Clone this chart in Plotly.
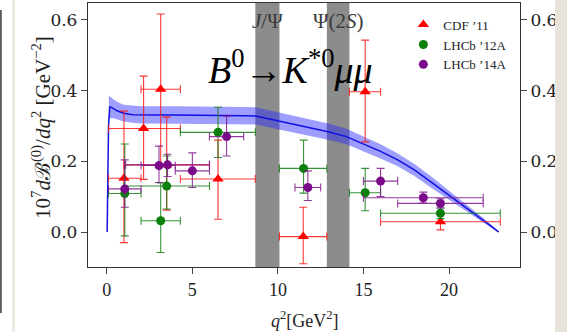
import plotly.graph_objects as go

# ---------------- data ----------------
# theory central curve
q_th = [0.02, 0.06, 0.1, 0.17, 0.3, 0.6, 1.0, 1.5, 2.0, 3.0, 4.0, 5.0, 6.0, 7.0, 8.0, 8.7,
        9.5, 10.0, 11.0, 12.0, 13.0, 14.0, 15.0, 16.0, 17.0, 18.0, 19.0, 20.0, 21.0, 22.0, 22.5, 22.9]
th_c = [0.0, 0.15, 0.30, 0.354, 0.352, 0.343, 0.336, 0.332, 0.331, 0.331, 0.331, 0.331, 0.331, 0.330, 0.329, 0.328,
        0.320, 0.315, 0.305, 0.295, 0.283, 0.270, 0.250, 0.228, 0.204, 0.175, 0.140, 0.105, 0.070, 0.033, 0.015, 0.0]
# theory uncertainty band
q_band = [0.12, 0.2, 0.4, 0.7, 1.0, 1.5, 2.0, 4.0, 6.0, 8.0, 8.7, 10.0, 11.0, 12.0, 13.0, 14.0,
          15.0, 16.0, 17.0, 18.0, 19.0, 20.0, 21.0, 22.0, 22.5, 22.9]
band_hi = [0.385, 0.383, 0.375, 0.366, 0.360, 0.357, 0.356, 0.356, 0.356, 0.354, 0.353, 0.339, 0.329, 0.318, 0.306, 0.292,
           0.271, 0.248, 0.222, 0.192, 0.156, 0.118, 0.080, 0.040, 0.019, 0.002]
band_lo = [0.320, 0.322, 0.322, 0.318, 0.313, 0.309, 0.307, 0.306, 0.306, 0.305, 0.304, 0.291, 0.281, 0.272, 0.260, 0.248,
           0.229, 0.208, 0.186, 0.158, 0.124, 0.092, 0.060, 0.026, 0.011, -0.002]

# CDF '11
cdf_q = [1.0, 2.15, 3.15, 3.5, 6.5, 11.48, 15.1, 19.5]
cdf_qlo = [0.1, 0.1, 2.0, 1.0, 4.3, 10.09, 14.18, 16.0]
cdf_qhi = [2.0, 4.3, 4.3, 6.0, 8.68, 12.86, 16.0, 23.0]
cdf_v = [0.152, 0.293, 0.404, 0.19, 0.15, -0.013, 0.397, 0.029]
cdf_vlo = [-0.03, 0.149, 0.19, 0.062, 0.036, -0.09, 0.255, 0.006]
cdf_vhi = [0.342, 0.441, 0.617, 0.325, 0.26, 0.07, 0.543, 0.05]

# LHCb '12A
l12_q = [1.05, 3.15, 3.5, 6.5, 11.5, 15.1, 19.5]
l12_qlo = [0.1, 2.0, 1.0, 4.3, 10.09, 14.18, 16.0]
l12_qhi = [2.0, 4.3, 6.0, 8.68, 12.86, 16.0, 23.0]
l12_v = [0.109, 0.032, 0.13, 0.282, 0.18, 0.111, 0.053]
l12_vlo = [-0.011, -0.058, 0.065, 0.211, 0.11, 0.06, 0.038]
l12_vhi = [0.249, 0.139, 0.215, 0.353, 0.26, 0.18, 0.068]

# LHCb '14A
l14_q = [1.05, 3.05, 3.55, 5.0, 7.0, 11.75, 16.0, 18.5, 19.5]
l14_qlo = [0.1, 2.0, 1.1, 4.0, 6.0, 11.0, 15.0, 15.0, 17.0]
l14_qhi = [2.0, 4.0, 6.0, 6.0, 8.0, 12.5, 17.0, 22.0, 22.0]
l14_v = [0.122, 0.188, 0.19, 0.173, 0.27, 0.126, 0.144, 0.097, 0.081]
l14_vlo = [0.07, 0.14, 0.157, 0.126, 0.215, 0.089, 0.10, 0.082, 0.068]
l14_vhi = [0.204, 0.243, 0.22, 0.224, 0.328, 0.173, 0.18, 0.113, 0.094]

# resonance veto regions
res_names = ["<i>J</i>/Ψ", "Ψ(2<i>S</i>)"]
res_lo = [8.68, 12.86]
res_hi = [10.09, 14.18]

x_ticks = [0, 5, 10, 15, 20]
y_ticks = [0.0, 0.2, 0.4, 0.6]

SERIF = "Liberation Serif"
YSERIF = "DejaVu Serif"

fig = go.Figure()

# band
fig.add_trace(go.Scatter(x=q_band, y=band_lo, mode="lines", line=dict(width=0),
                         showlegend=False, hoverinfo="skip"))
fig.add_trace(go.Scatter(x=q_band, y=band_hi, mode="lines", line=dict(width=0),
                         fill="tonexty", fillcolor="rgba(40,40,255,0.45)",
                         showlegend=False, hoverinfo="skip"))
fig.add_trace(go.Scatter(x=q_th, y=th_c, mode="lines", line=dict(color="#1010e0", width=1.5),
                         showlegend=False, hoverinfo="skip"))


def add_data(name, q, qlo, qhi, v, vlo, vhi, color, ecolor, symbol, size):
    fig.add_trace(go.Scatter(
        x=q, y=v, mode="markers", name=name,
        marker=dict(color=color, symbol=symbol, size=size, line=dict(width=0)),
        error_x=dict(type="data", symmetric=False,
                     array=[h - c for h, c in zip(qhi, q)],
                     arrayminus=[c - l for l, c in zip(qlo, q)],
                     color=ecolor, thickness=1.1, width=4),
        error_y=dict(type="data", symmetric=False,
                     array=[h - c for h, c in zip(vhi, v)],
                     arrayminus=[c - l for l, c in zip(vlo, v)],
                     color=ecolor, thickness=1.1, width=4),
    ))


add_data("CDF ’11", cdf_q, cdf_qlo, cdf_qhi, cdf_v, cdf_vlo, cdf_vhi,
         "#ff0000", "rgba(250,20,20,0.85)", "triangle-up", 10)
add_data("LHCb ’12A", l12_q, l12_qlo, l12_qhi, l12_v, l12_vlo, l12_vhi,
         "#0a800a", "rgba(20,128,20,0.85)", "circle", 9)
add_data("LHCb ’14A", l14_q, l14_qlo, l14_qhi, l14_v, l14_vlo, l14_vhi,
         "#7a0a8a", "rgba(128,25,140,0.85)", "circle", 9)

# dummy trace for right axis
fig.add_trace(go.Scatter(x=[None], y=[None], yaxis="y2", showlegend=False, hoverinfo="skip"))

shapes = []
for lo, hi in zip(res_lo, res_hi):
    shapes.append(dict(type="rect", xref="x", yref="paper", x0=lo, x1=hi, y0=0, y1=1,
                       fillcolor="rgb(140,140,140)", line=dict(width=0), layer="below"))
# screenshot surroundings
shapes.append(dict(type="rect", xref="paper", yref="paper", x0=-0.2037, x1=-0.1995, y0=-0.174, y1=0.9735,
                   fillcolor="#5a5a5a", line=dict(width=0), layer="above"))
shapes.append(dict(type="rect", xref="paper", yref="paper", x0=-0.176, x1=-0.169, y0=-0.25, y1=1.02,
                   fillcolor="#efebe3", line=dict(width=0), layer="above"))
shapes.append(dict(type="rect", xref="paper", yref="paper", x0=1.081, x1=1.12, y0=-0.25, y1=1.02,
                   fillcolor="#e8e3da", line=dict(width=0), layer="above"))

annotations = []
for name, lo, hi in zip(res_names, res_lo, res_hi):
    annotations.append(dict(x=(lo + hi) / 2, y=0.93, xref="x", yref="paper", text=name,
                            showarrow=False, yanchor="middle",
                            font=dict(family=SERIF, size=21, color="#3a3a3a")))
annotations.append(dict(x=0.468, y=0.855, xref="paper", yref="paper",
                        text="<i>B</i><sup>0</sup>→<i>K</i><sup>*0</sup><i>μμ</i>",
                        showarrow=False, font=dict(family=SERIF, size=38, color="black")))
annotations.append(dict(x=0.502, y=-0.2, xref="paper", yref="paper", yanchor="middle",
                        text="<i>q</i><sup>2</sup>[GeV<sup>2</sup>]", showarrow=False,
                        font=dict(family=SERIF, size=18, color="#222")))
annotations.append(dict(x=-0.145, y=0.53, xref="paper", yref="paper", textangle=-90,
                        text="10<sup>7</sup><i>d</i>ℬ<sup>(0)</sup>/<i>dq</i><sup>2</sup> [GeV<sup>−2</sup>]",
                        showarrow=False, font=dict(family=SERIF, size=21, color="#222")))

yr = [-0.099, 0.648]
fig.update_layout(
    width=567, height=332,
    margin=dict(l=88, r=47, t=3, b=65),
    paper_bgcolor="white", plot_bgcolor="white",
    font=dict(family=SERIF, size=17, color="#222"),
    xaxis=dict(range=[-1.1, 24.15], tickvals=x_ticks, ticks="outside", ticklen=6,
               showline=True, linecolor="#333", linewidth=1.3, mirror=True,
               showgrid=False, zeroline=False, tickfont=dict(family=SERIF, size=18)),
    yaxis=dict(range=yr, tickvals=y_ticks, tickformat=".1f", ticks="outside", ticklen=6,
               showline=True, linecolor="#333", linewidth=1.3, mirror=True,
               showgrid=False, zeroline=False, tickfont=dict(family=YSERIF, size=17)),
    yaxis2=dict(range=yr, tickvals=y_ticks, tickformat=".1f", ticks="outside", ticklen=6,
                overlaying="y", side="right", showline=False, showgrid=False, zeroline=False,
                tickfont=dict(family=YSERIF, size=17)),
    legend=dict(x=0.73, y=0.975, xanchor="left", yanchor="top", bgcolor="rgba(0,0,0,0)",
                traceorder="normal", tracegroupgap=0,
                font=dict(family=SERIF, size=13, color="#222")),
    shapes=shapes, annotations=annotations, showlegend=True,
)

fig.write_html("out.html")
